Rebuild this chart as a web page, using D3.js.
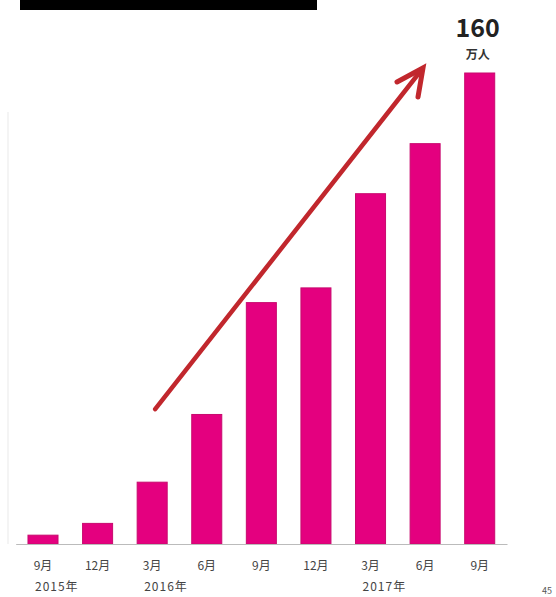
<!DOCTYPE html>
<html>
<head>
<meta charset="utf-8">
<script src="https://cdn.jsdelivr.net/npm/d3@7"></script>
<style>
html,body{margin:0;padding:0;background:#fff;}
svg{display:block;}
text{font-family:"Noto Sans CJK JP","Noto Sans",sans-serif;}
</style>
</head>
<body>
<svg id="chart" width="556" height="597"></svg>
<script>
const categories = ["9月","12月","3月","6月","9月","12月","3月","6月","9月"];
const values = [3, 7, 21, 44, 82, 87, 119, 136, 160];
const yearLabels = ["2015年", "", "2016年", "", "", "", "2017年", "", ""];
const topValueLabel = "160";
const unitLabel = "万人";

const svg = d3.select("#chart");
const idx = categories.map((d, i) => i);

const x = d3.scaleBand().domain(idx).range([15.7, 507]).paddingInner(0.45).paddingOuter(0.225);
const y = d3.scaleLinear().domain([0, 160]).range([544, 73]);

// top black banner
svg.append("rect").attr("x", 20).attr("y", 0).attr("width", 297).attr("height", 10).attr("fill", "#000");

// faint left border
svg.append("line").attr("x1", 8).attr("x2", 8).attr("y1", 112).attr("y2", 544)
  .attr("stroke", "#f0f0f0").attr("stroke-width", 1.5);

// bars
svg.append("g").selectAll("rect").data(values).join("rect")
  .attr("x", (d, i) => x(i))
  .attr("y", d => y(d))
  .attr("width", x.bandwidth())
  .attr("height", d => y(0) - y(d))
  .attr("fill", "#e4007f")
  .attr("stroke", "#c80a6e").attr("stroke-width", 1);

// baseline axis
const axis = d3.axisBottom(x).tickSize(0).tickFormat(i => categories[i]);
const gx = svg.append("g").attr("transform", `translate(0,${y(0)})`).call(axis);
gx.select(".domain").attr("stroke", "#bbb").attr("stroke-width", 1);
gx.selectAll("text").attr("dy", 0).attr("y", 26)
  .attr("font-size", 12).attr("fill", "#444");

// year labels
svg.append("g").selectAll("text").data(yearLabels).join("text")
  .attr("x", (d, i) => x(i) + x.bandwidth() / 2 - 8)
  .attr("y", 591)
  .attr("font-size", 12)
  .attr("letter-spacing", 1)
  .attr("fill", "#444")
  .text(d => d);

// top value label
const last = values.length - 1;
const cx = x(last) + x.bandwidth() / 2 - 2;
svg.append("text").attr("x", cx).attr("y", 37).attr("text-anchor", "middle")
  .attr("font-size", 25).attr("font-weight", "bold").attr("fill", "#222")
  .attr("font-family", "Roboto, 'Noto Sans', sans-serif")
  .text(topValueLabel);
svg.append("text").attr("x", cx).attr("y", 59).attr("text-anchor", "middle")
  .attr("font-size", 12).attr("font-weight", "bold").attr("fill", "#333")
  .text(unitLabel);

// growth arrow from bar 3 area to top
const ax0 = x(2) + x.bandwidth() / 2 + 3, ay0 = y(values[2]) - 73;
const ax1 = 423, ay1 = 68;
const arrowColor = "#c1272d";
svg.append("line").attr("x1", ax0).attr("y1", ay0).attr("x2", ax1 - 2).attr("y2", ay1 + 2.5)
  .attr("stroke", arrowColor).attr("stroke-width", 4.5).attr("stroke-linecap", "round");
svg.append("path")
  .attr("d", `M${ax1 - 26},${ay1 + 14} L${ax1},${ay1} L${ax1 - 5},${ay1 + 29}`)
  .attr("fill", "none").attr("stroke", arrowColor).attr("stroke-width", 5)
  .attr("stroke-linejoin", "miter").attr("stroke-linecap", "round");

// page number
svg.append("text").attr("x", 542).attr("y", 594).attr("font-size", 9).attr("fill", "#555").text("45");
</script>
</body>
</html>
